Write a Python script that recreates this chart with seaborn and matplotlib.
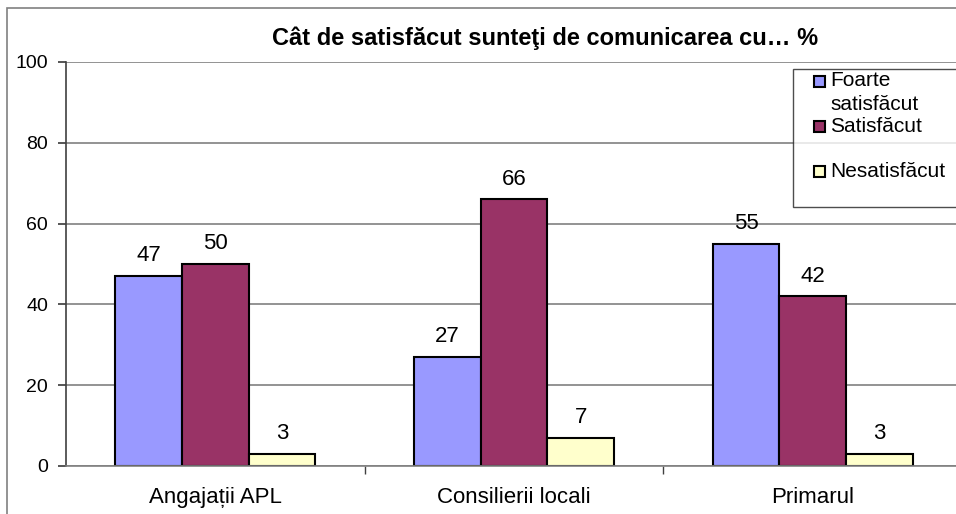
import matplotlib
matplotlib.use("Agg")
import matplotlib.pyplot as plt
import seaborn as sns
import pandas as pd
from matplotlib.patches import Patch, Rectangle
from matplotlib.legend_handler import HandlerPatch

categories = ["Angajații APL", "Consilierii locali", "Primarul"]
series = ["Foarte\nsatisfăcut", "Satisfăcut", "Nesatisfăcut"]
foarte_satisfacut = [47, 27, 55]
satisfacut = [50, 66, 42]
nesatisfacut = [3, 7, 3]
yticks = [0, 20, 40, 60, 80, 100]
title = "Cât de satisfăcut sunteţi de comunicarea cu… %"
colors = ["#9999FF", "#993366", "#FFFFCC"]

rows = []
for s, vals in zip(series, [foarte_satisfacut, satisfacut, nesatisfacut]):
    for c, v in zip(categories, vals):
        rows.append({"cat": c, "series": s, "val": v})
df = pd.DataFrame(rows)

sns.set_theme(style="white")
plt.rcParams["font.family"] = ["Liberation Sans", "DejaVu Sans"]
plt.rcParams["text.color"] = "black"
plt.rcParams["xtick.color"] = "black"
plt.rcParams["ytick.color"] = "black"

fig = plt.figure(figsize=(9.56, 5.14), dpi=100)
W, H = 956, 514
ax = fig.add_axes([66 / W, 1 - 466 / H, (962 - 66) / W, (466 - 62) / H])

sns.barplot(data=df, x="cat", y="val", hue="series", palette=colors,
            width=0.67, gap=0, edgecolor="black", linewidth=1.5,
            ax=ax, legend=False, saturation=1)

ax.set_xlim(-0.5, 2.5)
ax.set_ylim(0, 100)
ax.set_yticks(yticks)
ax.yaxis.grid(True, color="#808080", linewidth=1.2)
ax.set_axisbelow(True)
ax.set_xlabel("")
ax.set_ylabel("")
for sp in ["top", "right"]:
    ax.spines[sp].set_visible(False)
ax.spines["left"].set_color("#404040")
ax.spines["bottom"].set_color("#808080")
ax.spines["left"].set_linewidth(1.2)
ax.spines["bottom"].set_linewidth(1.2)
ax.tick_params(axis="y", which="both", left=True, length=6, color="#404040",
               labelsize=14, pad=7, labelcolor="black")
ax.set_xticks([0.5, 1.5], minor=True)
ax.tick_params(axis="x", which="minor", bottom=True, length=6, color="#404040")
ax.tick_params(axis="x", which="major", bottom=False, labelsize=16, pad=9,
               labelcolor="black")

for cont in ax.containers:
    ax.bar_label(cont, fmt="%d", padding=7, fontsize=16, color="black")

fig.text(545 / W, 1 - 38 / H, title, ha="center", va="center",
         fontsize=17, fontweight="bold", color="black")

# legend: every entry occupies two text lines, square aligned with first line
SQ = 8.0  # points
UP = 8.5  # points


def square_patch(legend, orig_handle, xdescent, ydescent, width, height, fontsize):
    return Rectangle((-xdescent + width - SQ, -ydescent + (height - SQ) / 2 + UP),
                     SQ, SQ)


handles = [Patch(facecolor=c, edgecolor="black", linewidth=1.5) for c in colors]
leg_labels = [s if "\n" in s else s + "\n " for s in series]
leg = fig.legend(handles, leg_labels, loc="upper left",
                 bbox_to_anchor=(793 / W, 0, 300 / W, 1 - 69 / H), mode="expand",
                 frameon=True, fancybox=False, edgecolor="#202020", fontsize=15,
                 handlelength=1.4, handleheight=0.7, handletextpad=0.28,
                 labelspacing=0.1, borderpad=0.12, borderaxespad=0,
                 handler_map={Patch: HandlerPatch(patch_func=square_patch)})
leg.get_frame().set_linewidth(1.0)
for t in leg.get_texts():
    t.set_linespacing(1.33)

fig.patches.append(Rectangle((7 / W, -0.1), 1.2, 1 - 8 / H + 0.1,
                             transform=fig.transFigure, fill=False,
                             edgecolor="#808080", linewidth=1.2, zorder=0))

fig.savefig("out.png", dpi=100)
